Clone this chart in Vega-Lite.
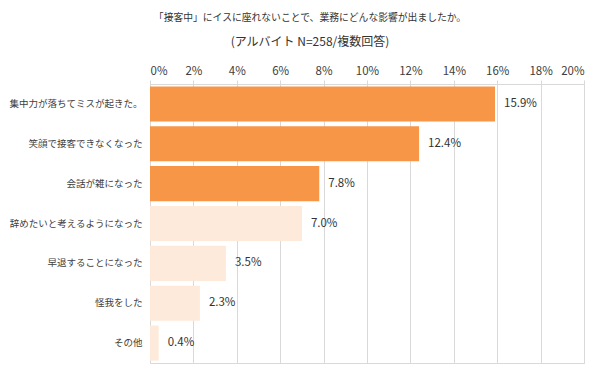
{
  "$schema": "https://vega.github.io/schema/vega-lite/v6.json",
  "width": 434,
  "height": 279,
  "autosize": {"type": "none"},
  "padding": {"left": 150, "top": 84, "right": 31, "bottom": 8},
  "background": "#ffffff",
  "config": {"font": "Noto Sans CJK JP", "view": {"stroke": "#d9d9d9"}},
  "title": {
    "text": "「接客中」にイスに座れないことで、業務にどんな影響が出ましたか。",
    "subtitle": "(アルバイト N=258/複数回答)",
    "fontSize": 9.8,
    "subtitleFontSize": 12,
    "fontWeight": "normal",
    "color": "#333333",
    "subtitleColor": "#333333",
    "subtitlePadding": 14,
    "anchor": "middle",
    "frame": "group",
    "dx": -57,
    "offset": 17
  },
  "data": {
    "values": [
      {"item": "集中力が落ちてミスが起きた。", "value": 15.9, "label": "15.9%", "group": "top"},
      {"item": "笑顔で接客できなくなった", "value": 12.4, "label": "12.4%", "group": "top"},
      {"item": "会話が雑になった", "value": 7.8, "label": "7.8%", "group": "top"},
      {"item": "辞めたいと考えるようになった", "value": 7.0, "label": "7.0%", "group": "other"},
      {"item": "早退することになった", "value": 3.5, "label": "3.5%", "group": "other"},
      {"item": "怪我をした", "value": 2.3, "label": "2.3%", "group": "other"},
      {"item": "その他", "value": 0.4, "label": "0.4%", "group": "other"}
    ]
  },
  "encoding": {
    "y": {
      "field": "item",
      "type": "nominal",
      "sort": null,
      "scale": {"paddingInner": 0.12, "paddingOuter": 0.06},
      "axis": {
        "title": null,
        "ticks": false,
        "domain": false,
        "labelFontSize": 9.5,
        "labelColor": "#404040",
        "labelPadding": 8,
        "labelLimit": 200
      }
    },
    "x": {
      "field": "value",
      "type": "quantitative",
      "scale": {"domain": [0, 20], "nice": false},
      "axis": {
        "orient": "top",
        "title": null,
        "values": [0, 2, 4, 6, 8, 10, 12, 14, 16, 18, 20],
        "labelExpr": "datum.value + '%'",
        "labelFontSize": 11.5,
        "labelColor": "#404040",
        "labelPadding": 4,
        "tickSize": 4,
        "tickColor": "#d9d9d9",
        "domain": false,
        "gridColor": "#d9d9d9",
        "grid": true
      }
    }
  },
  "layer": [
    {
      "mark": {"type": "bar"},
      "encoding": {
        "color": {
          "field": "group",
          "type": "nominal",
          "scale": {"domain": ["top", "other"], "range": ["#F79646", "#FDEADA"]},
          "legend": null
        }
      }
    },
    {
      "mark": {"type": "text", "align": "left", "dx": 9, "fontSize": 11.5, "color": "#333333"},
      "encoding": {
        "text": {"field": "label", "type": "nominal"}
      }
    }
  ]
}
